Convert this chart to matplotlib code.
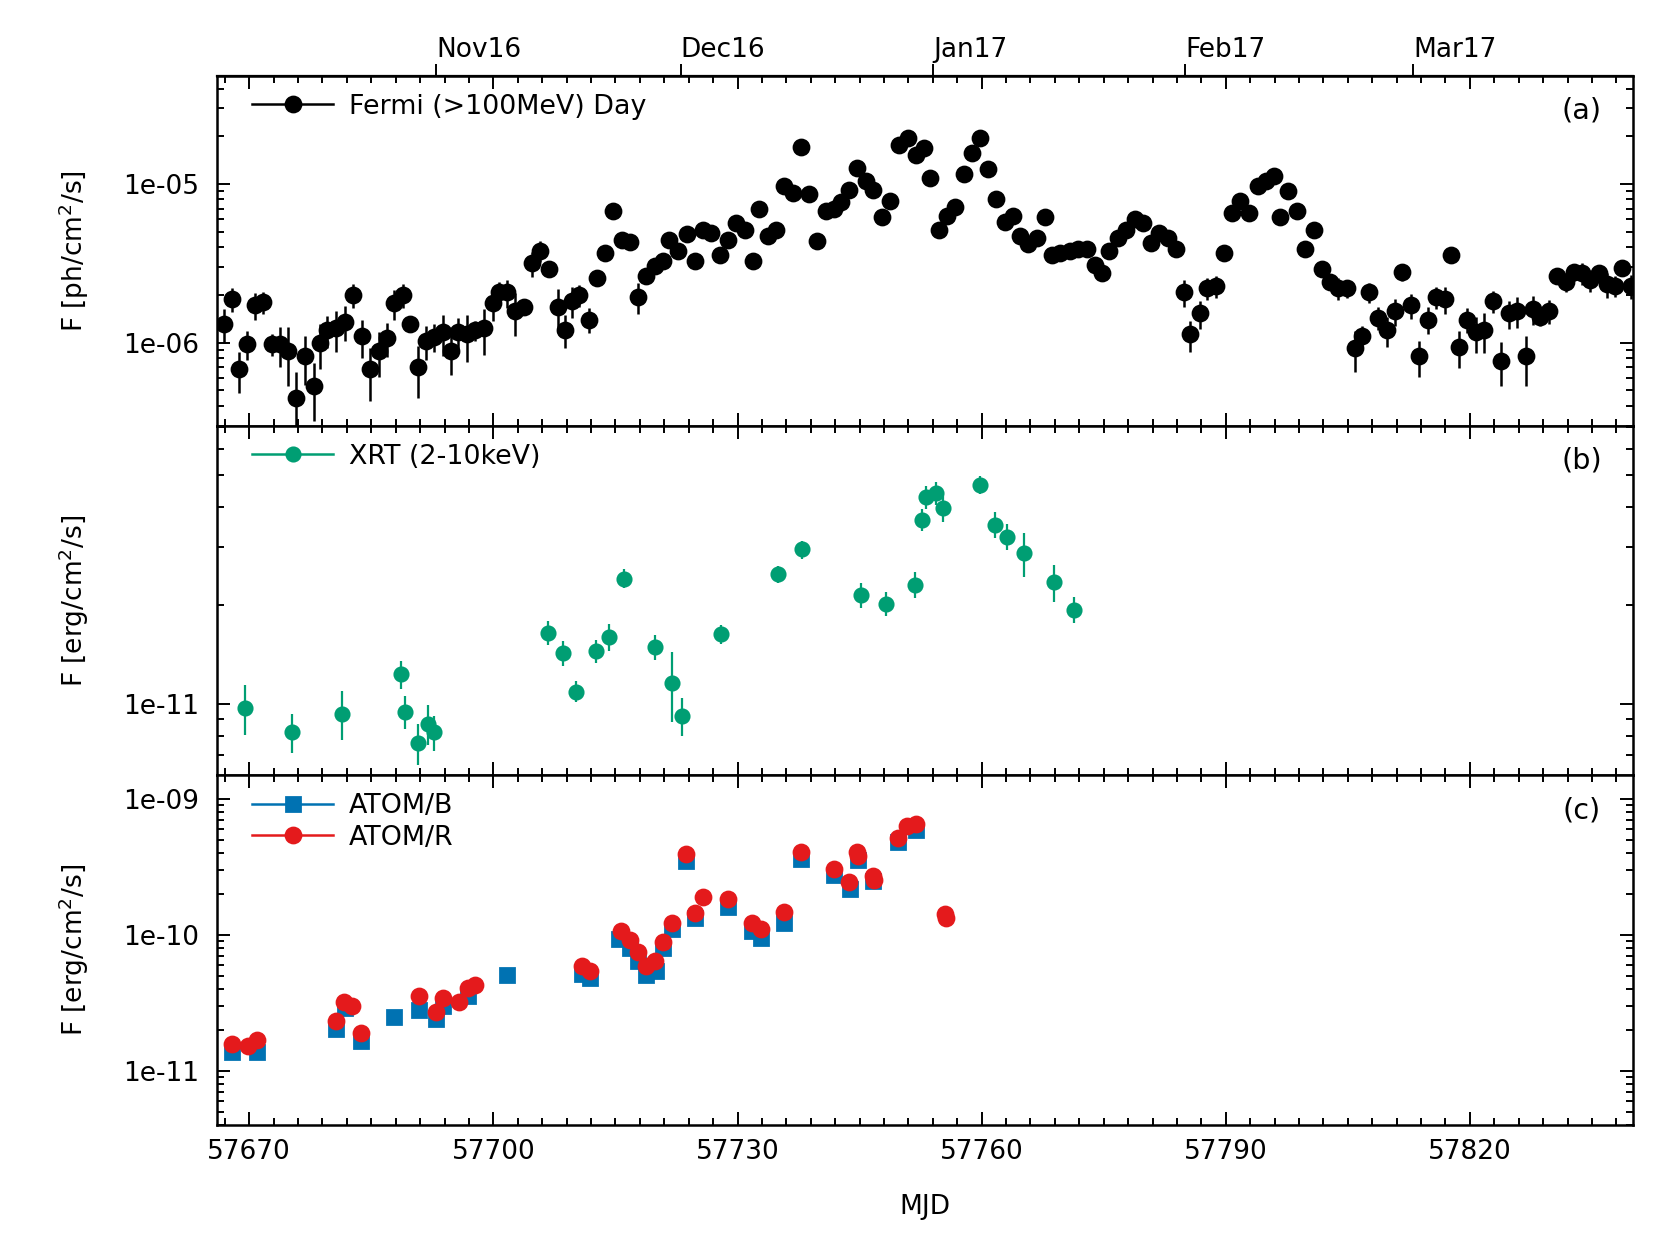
import matplotlib
matplotlib.use("Agg")
import matplotlib.pyplot as plt
from matplotlib import ticker
from matplotlib.lines import Line2D
import numpy as np

# Fermi-LAT daily light curve (flux in 1e-6 ph/cm2/s)
FERMI_MJD = [
    57666.9, 57667.9, 57668.7, 57669.7, 57670.7, 57671.7, 57672.8, 57673.8, 57674.8, 57675.8,
    57676.9, 57677.9, 57678.7, 57679.6, 57680.7, 57681.8, 57682.8, 57683.8, 57684.8, 57685.9,
    57686.9, 57687.8, 57688.9, 57689.7, 57690.7, 57691.7, 57692.7, 57693.8, 57694.8, 57695.7,
    57696.8, 57697.8, 57698.8, 57699.9, 57700.7, 57701.7, 57702.7, 57703.8, 57704.8, 57705.7,
    57706.8, 57707.9, 57708.8, 57709.7, 57710.5, 57711.7, 57712.7, 57713.7, 57714.7, 57715.8,
    57716.8, 57717.8, 57718.8, 57719.9, 57720.9, 57721.6, 57722.7, 57723.8, 57724.8, 57725.7,
    57726.8, 57727.8, 57728.8, 57729.8, 57730.9, 57731.9, 57732.7, 57733.7, 57734.7, 57735.7,
    57736.8, 57737.8, 57738.8, 57739.8, 57740.9, 57741.9, 57742.7, 57743.7, 57744.7, 57745.8,
    57746.7, 57747.8, 57748.7, 57749.8, 57750.9, 57751.9, 57752.9, 57753.7, 57754.7, 57755.7,
    57756.7, 57757.8, 57758.8, 57759.8, 57760.8, 57761.8, 57762.9, 57763.9, 57764.7, 57765.7,
    57766.8, 57767.8, 57768.7, 57769.6, 57770.8, 57771.9, 57772.9, 57773.9, 57774.8, 57775.7,
    57776.7, 57777.7, 57778.8, 57779.8, 57780.8, 57781.8, 57782.9, 57783.9, 57784.9, 57785.6,
    57786.8, 57787.7, 57788.8, 57789.8, 57790.8, 57791.8, 57792.8, 57793.9, 57794.9, 57795.9,
    57796.7, 57797.7, 57798.7, 57799.7, 57800.8, 57801.8, 57802.8, 57803.8, 57804.9, 57805.9,
    57806.7, 57807.6, 57808.7, 57809.8, 57810.8, 57811.7, 57812.8, 57813.8, 57814.8, 57815.8,
    57816.9, 57817.7, 57818.7, 57819.7, 57820.7, 57821.7, 57822.8, 57823.8, 57824.8, 57825.8,
    57826.9, 57827.7, 57828.6, 57829.7, 57830.7, 57831.8, 57832.8, 57833.8, 57834.8, 57835.9,
    57836.8, 57837.8, 57838.7, 57839.8,
]
FERMI_FLUX = [
    1.31, 1.89, 0.68, 0.98, 1.73, 1.80, 0.98, 0.98, 0.89, 0.45,
    0.82, 0.53, 1.00, 1.20, 1.23, 1.36, 2.00, 1.10, 0.68, 0.89,
    1.07, 1.77, 2.00, 1.31, 0.70, 1.03, 1.09, 1.16, 0.89, 1.16,
    1.13, 1.20, 1.24, 1.77, 2.08, 2.08, 1.58, 1.67, 3.16, 3.80,
    2.90, 1.67, 1.21, 1.83, 2.00, 1.40, 2.55, 3.69, 6.76, 4.44,
    4.29, 1.95, 2.63, 3.04, 3.27, 4.44, 3.79, 4.84, 3.27, 5.13,
    4.95, 3.57, 4.44, 5.65, 5.13, 3.27, 6.95, 4.70, 5.13, 9.71,
    8.81, 17.2, 8.61, 4.40, 6.76, 6.95, 7.66, 9.16, 12.7, 10.4,
    9.16, 6.17, 7.85, 17.6, 19.6, 15.2, 16.8, 11.0, 5.13, 6.31,
    7.19, 11.6, 15.7, 19.4, 12.4, 8.04, 5.79, 6.31, 4.70, 4.17,
    4.55, 6.17, 3.57, 3.66, 3.79, 3.89, 3.89, 3.09, 2.74, 3.80,
    4.55, 5.13, 6.00, 5.65, 4.26, 4.95, 4.55, 3.89, 2.08, 1.13,
    1.53, 2.20, 2.28, 3.69, 6.53, 7.85, 6.53, 9.76, 10.4, 11.2,
    6.17, 9.08, 6.76, 3.89, 5.13, 2.90, 2.43, 2.20, 2.20, 0.92,
    1.10, 2.08, 1.44, 1.20, 1.58, 2.80, 1.73, 0.82, 1.40, 1.95,
    1.88, 3.57, 0.94, 1.40, 1.16, 1.20, 1.84, 0.77, 1.53, 1.58,
    0.82, 1.63, 1.45, 1.58, 2.64, 2.43, 2.80, 2.74, 2.48, 2.74,
    2.34, 2.28, 2.97, 2.28,
]
FERMI_ERR = [
    0.31, 0.32, 0.20, 0.20, 0.33, 0.29, 0.16, 0.28, 0.36, 0.20,
    0.28, 0.21, 0.32, 0.28, 0.36, 0.34, 0.34, 0.30, 0.25, 0.28,
    0.26, 0.37, 0.34, 0.10, 0.25, 0.25, 0.22, 0.34, 0.26, 0.28,
    0.37, 0.18, 0.40, 0.39, 0.33, 0.42, 0.47, 0.18, 0.57, 0.57,
    0.23, 0.52, 0.28, 0.40, 0.32, 0.25, 0.20, 0.30, 0.40, 0.35,
    0.34, 0.43, 0.26, 0.24, 0.26, 0.31, 0.38, 0.34, 0.26, 0.36,
    0.35, 0.29, 0.31, 0.40, 0.36, 0.33, 0.49, 0.38, 0.36, 0.58,
    0.53, 1.00, 0.52, 0.35, 0.47, 0.49, 0.54, 0.55, 0.76, 0.62,
    0.55, 0.43, 0.47, 1.06, 1.20, 0.90, 1.00, 0.77, 0.41, 0.44,
    0.50, 0.70, 0.94, 1.16, 0.74, 0.56, 0.41, 0.44, 0.38, 0.33,
    0.36, 0.43, 0.36, 0.29, 0.30, 0.31, 0.31, 0.28, 0.25, 0.30,
    0.36, 0.36, 0.42, 0.40, 0.34, 0.35, 0.36, 0.31, 0.40, 0.25,
    0.31, 0.35, 0.36, 0.37, 0.46, 0.47, 0.46, 0.59, 0.62, 0.67,
    0.43, 0.55, 0.47, 0.31, 0.36, 0.32, 0.27, 0.35, 0.29, 0.27,
    0.18, 0.29, 0.24, 0.26, 0.30, 0.34, 0.31, 0.21, 0.27, 0.31,
    0.36, 0.39, 0.25, 0.25, 0.30, 0.34, 0.29, 0.24, 0.31, 0.35,
    0.29, 0.33, 0.17, 0.27, 0.21, 0.34, 0.34, 0.44, 0.40, 0.36,
    0.42, 0.34, 0.30, 0.39,
]

# Swift-XRT 2-10 keV (flux in 1e-11 erg/cm2/s)
XRT_MJD = [
    57669.45, 57675.31, 57681.44, 57688.64, 57689.13, 57690.76, 57691.95, 57692.73,
    57706.77, 57708.53, 57710.15, 57712.62, 57714.25, 57716.01, 57719.82, 57721.94,
    57723.20, 57728.00, 57734.98, 57737.95, 57745.21, 57748.25, 57751.84, 57752.69,
    57753.11, 57754.45, 57755.23, 57759.74, 57761.65, 57763.13, 57765.18, 57768.85,
    57771.31,
]
XRT_FLUX = [
    0.974, 0.819, 0.934, 1.23, 0.945, 0.760, 0.870, 0.818,
    1.65, 1.43, 1.09, 1.45, 1.60, 2.41, 1.49, 1.16,
    0.919, 1.63, 2.49, 2.96, 2.15, 2.02, 2.31, 3.65,
    4.28, 4.40, 3.96, 4.66, 3.52, 3.24, 2.88, 2.35,
    1.94,
]
XRT_ERR = [
    0.17, 0.11, 0.16, 0.12, 0.11, 0.11, 0.12, 0.10,
    0.14, 0.13, 0.08, 0.12, 0.15, 0.16, 0.13, 0.28,
    0.12, 0.11, 0.15, 0.19, 0.19, 0.17, 0.21, 0.29,
    0.34, 0.36, 0.36, 0.30, 0.32, 0.29, 0.44, 0.31,
    0.18,
]

# ATOM optical fluxes (erg/cm2/s, in 1e-11)
ATOM_B_MJD = [
    57667.84, 57670.97, 57680.69, 57681.82, 57683.76, 57687.84, 57690.91, 57692.98,
    57693.79, 57696.86, 57701.63, 57710.85, 57711.91, 57715.48, 57716.80, 57717.74,
    57718.81, 57719.94, 57720.88, 57721.94, 57723.70, 57724.76, 57728.84, 57731.78,
    57732.91, 57735.73, 57737.80, 57741.88, 57743.88, 57744.76, 57746.70, 57749.78,
    57751.91,
]
ATOM_B_FLUX = [
    1.39, 1.39, 2.02, 2.92, 1.66, 2.51, 2.79, 2.40,
    3.01, 3.56, 5.08, 5.14, 4.86, 9.29, 7.98, 6.44,
    5.08, 5.43, 8.07, 11.0, 35.4, 13.4, 16.1, 10.8,
    9.55, 12.3, 36.6, 27.6, 21.7, 36.0, 24.9, 48.3,
    59.8,
]
ATOM_R_MJD = [
    57667.84, 57669.90, 57670.97, 57680.69, 57681.69, 57682.63, 57683.76, 57690.91,
    57692.98, 57693.79, 57695.80, 57696.86, 57697.80, 57710.85, 57711.91, 57715.73,
    57716.80, 57717.74, 57718.81, 57719.87, 57720.88, 57721.94, 57723.70, 57724.76,
    57725.77, 57728.84, 57731.84, 57732.91, 57735.73, 57737.80, 57741.88, 57743.76,
    57744.65, 57744.80, 57746.65, 57746.75, 57749.78, 57750.84, 57751.91, 57755.55,
    57755.65,
]
ATOM_R_FLUX = [
    1.59, 1.53, 1.68, 2.33, 3.24, 3.01, 1.89, 3.56,
    2.72, 3.42, 3.24, 4.10, 4.29, 5.92, 5.43, 10.7,
    9.25, 7.54, 5.92, 6.44, 8.93, 12.3, 39.6, 14.6,
    19.0, 18.3, 12.3, 11.0, 14.9, 41.0, 30.9, 24.7,
    41.0, 38.0, 27.2, 25.5, 52.0, 64.0, 65.3, 14.2,
    13.3,
]

MJD_TICKS = [57670, 57700, 57730, 57760, 57790, 57820]
MONTH_MJD = [57693, 57723, 57754, 57785, 57813]
MONTH_LABELS = ["Nov16", "Dec16", "Jan17", "Feb17", "Mar17"]

GREEN = "#009E73"
BLUE = "#0072B2"
RED = "#E41A1C"
FS = 9.5
FS_LEG = 9.7

plt.rcParams["font.family"] = ["DejaVu Sans"]
plt.rcParams["font.size"] = FS


def style_axis(ax, ylim, decades, ylabel, tag):
    ax.set_yscale("log")
    ax.set_ylim(*ylim)
    ax.set_xlim(57666, 57840)
    ax.set_xticks(MJD_TICKS)
    ax.xaxis.set_minor_locator(ticker.MultipleLocator(3, offset=1))
    ax.yaxis.set_major_locator(ticker.FixedLocator(decades))
    ax.yaxis.set_minor_locator(ticker.LogLocator(base=10, subs=np.arange(2, 10)))
    ax.yaxis.set_major_formatter(ticker.FuncFormatter(lambda v, p: f"{v:.0e}"))
    ax.yaxis.set_minor_formatter(ticker.NullFormatter())
    ax.tick_params(which="both", direction="in", top=True, right=True,
                   width=0.7, labelsize=FS)
    ax.tick_params(which="major", length=4.8)
    ax.tick_params(which="minor", length=2.6)
    ax.tick_params(axis="y", pad=6.5)
    ax.tick_params(axis="x", pad=5)
    for sp in ax.spines.values():
        sp.set_linewidth(0.9)
    ax.set_ylabel(ylabel)
    ax.yaxis.set_label_coords(-0.089, 0.5)
    ax.text(0.964, 0.9, tag, transform=ax.transAxes, ha="center", va="center",
            fontsize=10.3)


def add_legend(ax, handles, labels):
    ax.legend(handles=handles, labels=labels, loc="upper left",
              bbox_to_anchor=(0.006, 1.026), frameon=False,
              handlelength=3.0, handletextpad=0.6, borderaxespad=0.6,
              labelspacing=0.2, fontsize=FS_LEG)


fig = plt.figure(figsize=(8.335, 6.25), dpi=200)
grid = fig.add_gridspec(3, 1, left=0.130, right=0.9794, top=0.9392, bottom=0.1,
                        hspace=0.0)
ax_a = fig.add_subplot(grid[0])
ax_b = fig.add_subplot(grid[1], sharex=ax_a)
ax_c = fig.add_subplot(grid[2], sharex=ax_a)

fermi_f = np.array(FERMI_FLUX) * 1e-6
fermi_e = np.array(FERMI_ERR) * 1e-6
ax_a.errorbar(FERMI_MJD, fermi_f, yerr=fermi_e, fmt="o", color="black",
              ms=5.4, elinewidth=0.9, capsize=0)
style_axis(ax_a, (3.0e-7, 4.8e-5), [1e-6, 1e-5], "F [ph/cm$^2$/s]", "(a)")
add_legend(ax_a, [Line2D([], [], color="black", marker="o", ms=5.4, lw=0.9)],
           ["Fermi (>100MeV) Day"])

xrt_f = np.array(XRT_FLUX) * 1e-11
xrt_e = np.array(XRT_ERR) * 1e-11
ax_b.errorbar(XRT_MJD, xrt_f, yerr=xrt_e, fmt="o", color=GREEN,
              ms=4.8, elinewidth=0.8, capsize=0)
style_axis(ax_b, (6.05e-12, 7.06e-11), [1e-11], "F [erg/cm$^2$/s]", "(b)")
add_legend(ax_b, [Line2D([], [], color=GREEN, marker="o", ms=4.8, lw=0.9)],
           ["XRT (2-10keV)"])

ax_c.plot(ATOM_B_MJD, np.array(ATOM_B_FLUX) * 1e-11, "s", color=BLUE, ms=5.2)
ax_c.plot(ATOM_R_MJD, np.array(ATOM_R_FLUX) * 1e-11, "o", color=RED, ms=5.4)
style_axis(ax_c, (4.0e-12, 1.5e-9), [1e-11, 1e-10, 1e-9], "F [erg/cm$^2$/s]", "(c)")
add_legend(ax_c, [Line2D([], [], color=BLUE, marker="s", ms=5.2, lw=0.9),
                  Line2D([], [], color=RED, marker="o", ms=5.4, lw=0.9)],
           ["ATOM/B", "ATOM/R"])

for ax in (ax_a, ax_b):
    ax.tick_params(labelbottom=False)
ax_c.set_xlabel("MJD", labelpad=10.5)

# calendar months along the top
top = ax_a.secondary_xaxis("top")
top.set_xticks(MONTH_MJD)
top.set_xticklabels(MONTH_LABELS)
top.xaxis.set_minor_locator(ticker.NullLocator())
top.tick_params(direction="out", length=4.5, width=0.7, pad=0.2, labelsize=FS)
for lab in top.get_xticklabels():
    lab.set_horizontalalignment("left")

fig.savefig("out.png", dpi=200)
